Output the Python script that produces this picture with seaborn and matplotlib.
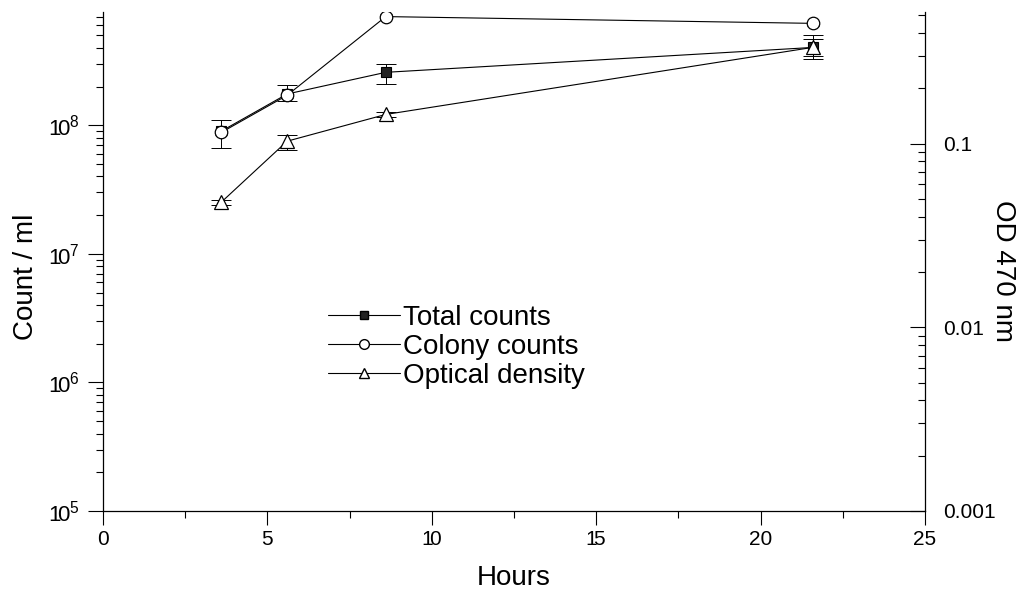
import numpy as np
import matplotlib
matplotlib.use("Agg")
import matplotlib.pyplot as plt
import seaborn as sns
from matplotlib.ticker import LogLocator, MultipleLocator, FuncFormatter, NullFormatter
from matplotlib.lines import Line2D

# Sampling times (h)
hours = [3.6, 5.6, 8.6, 21.6]

# Total counts per ml with lower / upper error limits
total_counts = [9.0e7, 1.75e8, 2.58e8, 4.03e8]
total_low = [6.7e7, 1.55e8, 2.1e8, 3.25e8]
total_high = [1.1e8, 2.05e8, 3.0e8, 5.0e8]

# Colony counts per ml with lower / upper error limits
colony_counts = [8.8e7, 1.71e8, 7.0e8, 6.2e8]
colony_low = [8.4e7, 1.63e8, 6.7e8, 5.95e8]
colony_high = [9.2e7, 1.79e8, 7.3e8, 6.45e8]

# Optical density at 470 nm with lower / upper error limits
optical_density = [0.048, 0.103, 0.144, 0.334]
od_low = [0.0465, 0.092, 0.139, 0.30]
od_high = [0.0495, 0.112, 0.149, 0.37]

series_labels = ["Total counts", "Colony counts", "Optical density"]
x_ticks = [0, 5, 10, 15, 20, 25]
x_tick_labels = ["0", "5", r"$\mathregular{1\!0}$", r"$\mathregular{1\!5}$", "20", "25"]

sns.set_style("ticks")
plt.rcParams["font.family"] = ["Liberation Sans", "DejaVu Sans"]
plt.rcParams["mathtext.fontset"] = "custom"
plt.rcParams["mathtext.rm"] = "Liberation Sans"
plt.rcParams["mathtext.it"] = "Liberation Sans:italic"
plt.rcParams["mathtext.bf"] = "Liberation Sans:bold"
plt.rcParams["axes.edgecolor"] = "black"
plt.rcParams["axes.labelcolor"] = "black"
plt.rcParams["text.color"] = "black"
plt.rcParams["axes.linewidth"] = 0.9
plt.rcParams["xtick.color"] = "black"
plt.rcParams["ytick.color"] = "black"
plt.rcParams["xtick.labelcolor"] = "black"
plt.rcParams["ytick.labelcolor"] = "black"

fig = plt.figure(figsize=(10.27, 5.91), dpi=100)
ax = fig.add_axes([103 / 1027, 1 - 511 / 591, 822 / 1027, 499 / 591])
ax.set_yscale("log")
ax2 = ax.twinx()
ax2.set_yscale("log")
ax2.set_position(ax.get_position())

ink = "black"
lw = 0.8


def err(vals, low, high):
    v = np.asarray(vals)
    return [v - np.asarray(low), np.asarray(high) - v]


# Total counts (filled squares)
ax.errorbar(hours, total_counts, yerr=err(total_counts, total_low, total_high),
            fmt="none", ecolor=ink, elinewidth=0.7, capsize=7, capthick=0.7, zorder=2)
sns.lineplot(x=hours, y=total_counts, ax=ax, color=ink, linewidth=lw,
             marker="s", markersize=7.5, markerfacecolor="#222222",
             markeredgecolor=ink, markeredgewidth=0.8, legend=False, zorder=3)

# Colony counts (open circles)
ax.errorbar(hours, colony_counts, yerr=err(colony_counts, colony_low, colony_high),
            fmt="none", ecolor=ink, elinewidth=0.7, capsize=4, capthick=0.7, zorder=4)
sns.lineplot(x=hours, y=colony_counts, ax=ax, color=ink, linewidth=lw,
             marker="o", markersize=9, markerfacecolor="white",
             markeredgecolor=ink, markeredgewidth=0.9, legend=False, zorder=5)

# Optical density (open triangles) on the right axis
ax2.errorbar(hours, optical_density, yerr=err(optical_density, od_low, od_high),
             fmt="none", ecolor=ink, elinewidth=0.7, capsize=7, capthick=0.7, zorder=2)
sns.lineplot(x=hours, y=optical_density, ax=ax2, color=ink, linewidth=lw,
             marker="^", markersize=9.5, markerfacecolor="white",
             markeredgecolor=ink, markeredgewidth=0.9, legend=False, zorder=3)

# Axis ranges
ax.set_xlim(0, 25)
ax.set_ylim(1e5, 7.6e8)
ax2.set_ylim(1e-3, 0.52)

# Bottom axis
ax.set_xticks(x_ticks)
ax.set_xticklabels(x_tick_labels)
ax.xaxis.set_minor_locator(MultipleLocator(2.5))
ax.tick_params(axis="x", which="major", direction="out", length=10, width=0.8,
               labelsize=15, pad=4)
ax.tick_params(axis="x", which="minor", direction="out", length=5, width=0.8)

# Left axis
ax.yaxis.set_major_locator(LogLocator(base=10, numticks=10))
ax.yaxis.set_minor_locator(LogLocator(base=10, subs=np.arange(2, 10), numticks=20))
ax.yaxis.set_major_formatter(FuncFormatter(
    lambda v, _: r"$\mathregular{1\!0^{%d}}$" % round(np.log10(v))))
ax.yaxis.set_minor_formatter(NullFormatter())
ax.tick_params(axis="y", which="major", direction="out", length=11, width=0.8,
               labelsize=16, pad=6, left=True, right=False)
ax.tick_params(axis="y", which="minor", direction="out", length=5, width=0.8,
               left=True, right=False)

# Right axis
ax2.yaxis.set_major_locator(LogLocator(base=10, numticks=10))
ax2.yaxis.set_minor_locator(LogLocator(base=10, subs=np.arange(2, 10), numticks=20))
ax2.yaxis.set_major_formatter(FuncFormatter(lambda v, _: f"{v:g}"))
ax2.yaxis.set_minor_formatter(NullFormatter())
ax2.tick_params(axis="y", which="major", direction="in", length=11, width=0.8,
                labelsize=15, pad=13)
ax2.tick_params(axis="y", which="minor", direction="in", length=5, width=0.8)

for a in (ax, ax2):
    a.spines["top"].set_visible(False)
    a.grid(False)
ax.spines["right"].set_visible(False)
ax2.spines["left"].set_visible(False)
ax2.spines["bottom"].set_visible(False)

# Axis titles
ax.set_xlabel("Hours", fontsize=20, va="center")
ax.xaxis.set_label_coords(0.5, (511 - 578) / 499)
ax.set_ylabel("Count / ml", fontsize=20, va="center")
ax.yaxis.set_label_coords((26 - 103) / 822, (511 - 277) / 499)
ax2.set_ylabel("OD 470 nm", fontsize=20, rotation=270, va="center")
ax2.yaxis.set_label_coords((1003 - 103) / 822, (511 - 271) / 499)

# Legend
handles = [
    Line2D([], [], color=ink, lw=lw, marker="s", ms=6, mfc="#222222", mec=ink),
    Line2D([], [], color=ink, lw=lw, marker="o", ms=7, mfc="white", mec=ink),
    Line2D([], [], color=ink, lw=lw, marker="^", ms=7, mfc="white", mec=ink),
]
leg = ax2.legend(handles, series_labels, loc="upper left",
                 bbox_to_anchor=(328 / 1027, 1 - 305 / 591), bbox_transform=fig.transFigure,
                 frameon=False, borderpad=0, borderaxespad=0, handlelength=2.6,
                 handletextpad=0.1, labelspacing=0.1, fontsize=20)
for t in leg.get_texts():
    t.set_color("black")

fig.savefig("out.png", dpi=100)
